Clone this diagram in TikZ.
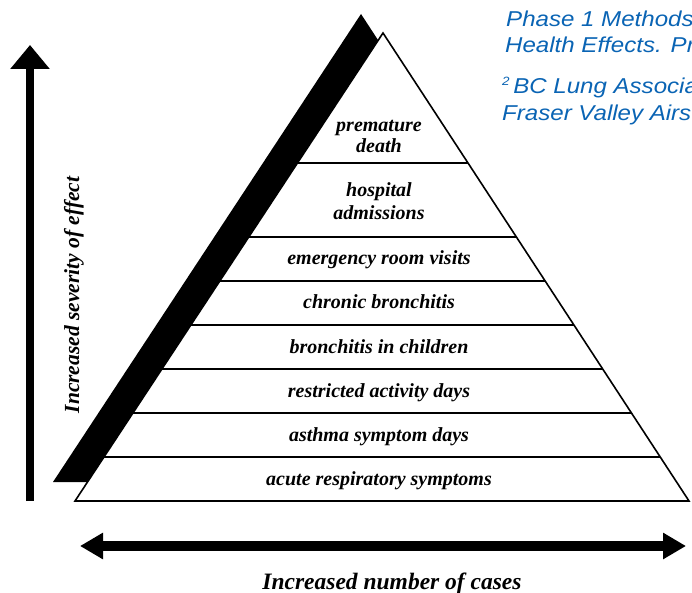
\documentclass[tikz,border=0pt]{standalone}
\usepackage{fontspec}
\setmainfont{Liberation Serif}
\newfontfamily\blueSans[FakeStretch=1.12]{Liberation Sans}
\usetikzlibrary{arrows.meta,calc}
\definecolor{refblue}{RGB}{10,100,180}
\tikzset{
  layerlabel/.style={font=\fontsize{20}{22}\selectfont\bfseries\itshape, align=center, inner sep=0pt, anchor=base},
  axislabel/.style={font=\fontsize{22}{24}\selectfont\bfseries\itshape, inner sep=0pt},
  bluetext/.style={font=\blueSans\fontsize{21.5}{24}\selectfont\itshape, text=refblue, inner sep=0pt, anchor=base west},
  sepline/.style={line width=1.5pt},
  bigarrow/.style={line width=8pt, -{Triangle[width=38pt,length=24pt]}},
  wideArrow/.style={line width=10pt, {Triangle[width=25pt,length=23pt]}-{Triangle[width=25pt,length=23pt]}}
}
\begin{document}
\begin{tikzpicture}[x=1pt,y=-1pt]
\useasboundingbox (0,0) rectangle (692,593);
\clip (0,0) rectangle (692,593);
% pyramid corners
\coordinate (A) at (383,33);
\coordinate (BL) at (75,501);
\coordinate (BR) at (689,501);
% shadow
\fill[black] ($(A)+(-22,-19)$) -- ($(BL)+(-22,-19)$) -- ($(BR)+(-22,-19)$) -- cycle;
% main triangle
\filldraw[fill=white, draw=black, line width=1.6pt, line join=miter] (A) -- (BL) -- (BR) -- cycle;
% separators
\foreach \t [count=\i] in {0.2778,0.4359,0.5299,0.6239,0.7179,0.8120,0.9060}{
  \coordinate (L\i) at ($(A)!\t!(BL)$);
  \coordinate (R\i) at ($(A)!\t!(BR)$);
  \draw[sepline] (L\i) -- (R\i);
}
% labels
\node[layerlabel] (n1a) at (379,132) {premature};
\node[layerlabel] (n1b) at (379,153) {death};
\node[layerlabel] (n2a) at (379,197) {hospital};
\node[layerlabel] (n2b) at (379,220) {admissions};
\node[layerlabel] (n3) at (379,264) {emergency room visits};
\node[layerlabel] (n4) at (379,308) {chronic bronchitis};
\node[layerlabel] (n5) at (379,353) {bronchitis in children};
\node[layerlabel] (n6) at (379,397) {restricted activity days};
\node[layerlabel] (n7) at (379,441) {asthma symptom days};
\node[layerlabel] (n8) at (379,485) {acute respiratory symptoms};
% vertical arrow
\coordinate (vS) at (30,501);
\coordinate (vE) at (30,45);
\draw[bigarrow] (vS) -- (vE);
\node[axislabel, font=\fontsize{21.5}{24}\selectfont\bfseries\itshape, rotate=90, anchor=base] (vlab) at (79,295) {Increased severity of effect};
% horizontal arrow
\coordinate (hS) at (80,546);
\coordinate (hE) at (686,546);
\draw[wideArrow] (hS) -- (hE);
\node[axislabel, font=\fontsize{23.5}{26}\selectfont\bfseries\itshape, anchor=base] (hlab) at (392,589) {Increased number of cases};
% blue reference text
\node[bluetext] (b1) at (506,27) {Phase 1 Methods};
\node[bluetext] (b2) at (505,53) {Health Effects. Pr};
\node[bluetext] (b3) at (502,94) {{\fontsize{12}{12}\selectfont\raisebox{8pt}{2}}\,BC Lung Associa};
\node[bluetext] (b4) at (502,121) {Fraser Valley Airs};
\end{tikzpicture}
\end{document}
